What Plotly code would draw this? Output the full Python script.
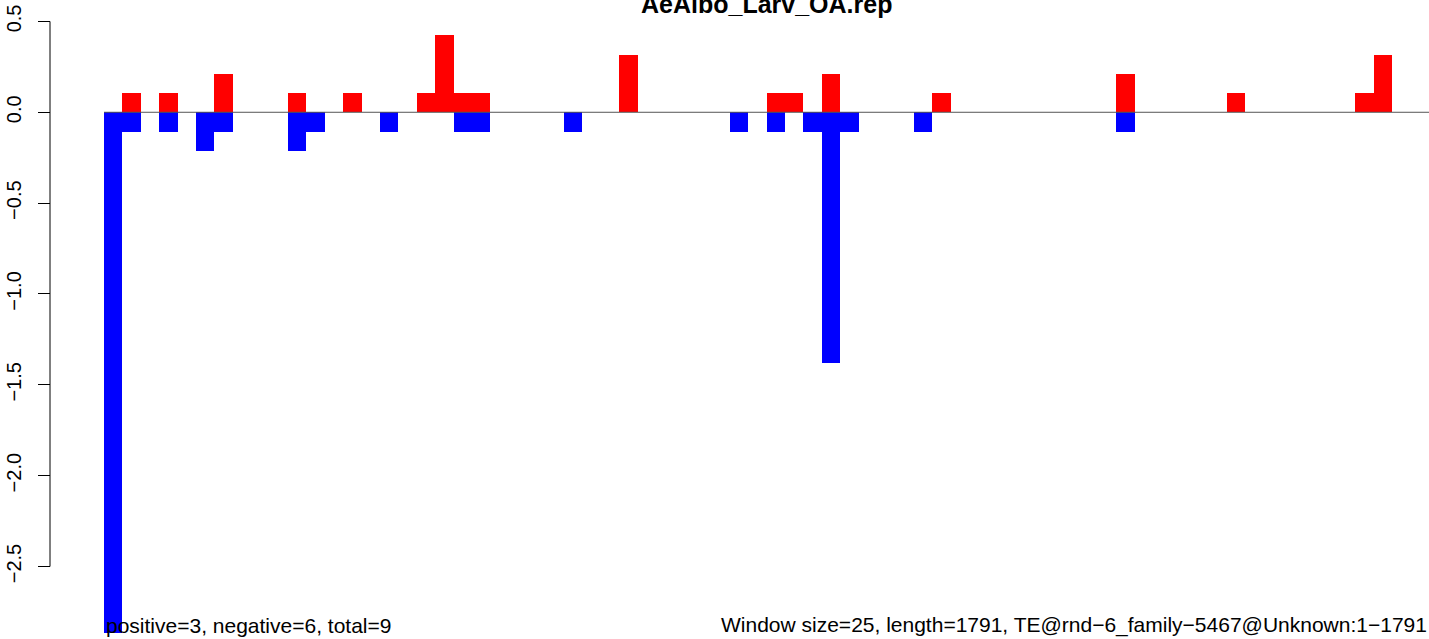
import plotly.graph_objects as go

# 25 bp windows along the 1791 bp element
windows = list(range(72))

positive = [
    0, 0.106, 0, 0.106, 0, 0, 0.212, 0, 0, 0,
    0.106, 0, 0, 0.106, 0, 0, 0, 0.106, 0.424, 0.106,
    0.106, 0, 0, 0, 0, 0, 0, 0, 0.318, 0,
    0, 0, 0, 0, 0, 0, 0.106, 0.106, 0, 0.212,
    0, 0, 0, 0, 0, 0.106, 0, 0, 0, 0,
    0, 0, 0, 0, 0, 0.212, 0, 0, 0, 0,
    0, 0.106, 0, 0, 0, 0, 0, 0, 0.106, 0.318,
    0, 0,
]

negative = [
    -2.864, -0.106, 0, -0.106, 0, -0.212, -0.106, 0, 0, 0,
    -0.212, -0.106, 0, 0, 0, -0.106, 0, 0, 0, -0.106,
    -0.106, 0, 0, 0, 0, -0.106, 0, 0, 0, 0,
    0, 0, 0, 0, -0.106, 0, -0.106, 0, -0.106, -1.379,
    -0.106, 0, 0, 0, -0.106, 0, 0, 0, 0, 0,
    0, 0, 0, 0, 0, -0.106, 0, 0, 0, 0,
    0, 0, 0, 0, 0, 0, 0, 0, 0, 0,
    0, 0,
]

y_ticks = [-2.5, -2.0, -1.5, -1.0, -0.5, 0.0, 0.5]
y_ticktext = ["\u22122.5", "\u22122.0", "\u22121.5", "\u22121.0", "\u22120.5", "0.0", "0.5"]

title = "AeAlbo_Larv_OA.rep"
left_note = "positive=3, negative=6, total=9"
right_note = "Window size=25, length=1791, TE@rnd\u22126_family\u22125467@Unknown:1\u22121791"

FONT = "Liberation Sans, Arial, sans-serif"

fig = go.Figure()
fig.add_trace(go.Bar(x=windows, y=positive, width=1, marker=dict(color="#ff0000", line=dict(width=0))))
fig.add_trace(go.Bar(x=windows, y=negative, width=1, marker=dict(color="#0000ff", line=dict(width=0))))

# R-style axis line only between first and last tick
fig.add_shape(type="line", xref="paper", yref="y", x0=0, x1=0, y0=y_ticks[0], y1=y_ticks[-1],
              line=dict(color="black", width=1))
# baseline at zero
fig.add_shape(type="line", xref="x", yref="y", x0=-0.5, x1=71.5, y0=0, y1=0,
              line=dict(color="#555555", width=1), layer="above")

# title sits partly above the top edge, as in the source image
fig.add_annotation(text="<b>" + title + "</b>", xref="x", yref="paper", x=35.5, y=1,
                   xanchor="center", yanchor="middle", yshift=-4, showarrow=False,
                   font=dict(family=FONT, size=25, color="black"))
fig.add_annotation(text=left_note, xref="x", yref="paper", x=-0.5, y=0,
                   xanchor="left", yanchor="bottom", yshift=0, showarrow=False,
                   font=dict(family=FONT, size=21, color="black"))
fig.add_annotation(text=right_note, xref="paper", yref="paper", x=1, y=0,
                   xanchor="right", yanchor="bottom", yshift=0, showarrow=False,
                   font=dict(family=FONT, size=21, color="black"))

fig.update_layout(
    width=1429, height=639,
    margin=dict(l=50, r=0, t=0, b=0),
    paper_bgcolor="white", plot_bgcolor="white",
    barmode="overlay", bargap=0, showlegend=False,
    font=dict(family=FONT, color="black"),
    xaxis=dict(domain=[54 / 1379, 1], range=[-0.5, 71.5], visible=False),
    yaxis=dict(range=[-2.899, 0.618], tickvals=y_ticks, ticktext=y_ticktext,
               ticks="outside", ticklen=12, tickwidth=1, tickcolor="black",
               tickangle=-90, tickfont=dict(family=FONT, size=20, color="black"),
               ticklabelstandoff=9,
               showline=False, showgrid=False, zeroline=False,
               anchor="free", position=0),
)

# page body has a default 8px margin; drop it so the figure fills the window
fig.write_html("out.html", config={"displayModeBar": False},
               post_script="document.body.style.margin='0';")
